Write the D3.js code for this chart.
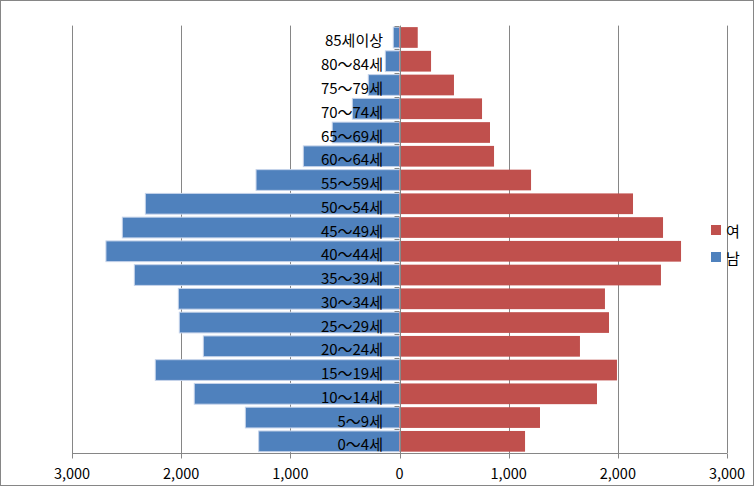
<!DOCTYPE html>
<html>
<head>
<meta charset="utf-8">
<script src="https://cdn.jsdelivr.net/npm/d3@7"></script>
<style>
  body { margin: 0; background: #fff; }
  svg { display: block; }
  text { font-family: "Noto Sans CJK KR", "Noto Sans", sans-serif; fill: #000; }
</style>
</head>
<body>
<svg id="chart" width="755" height="487"></svg>
<script>
// age groups, top to bottom
var ageGroups = ["85세이상","80～84세","75～79세","70～74세","65～69세","60～64세","55～59세",
                 "50～54세","45～49세","40～44세","35～39세","30～34세","25～29세","20～24세",
                 "15～19세","10～14세","5～9세","0～4세"];
// 남 (male) - drawn to the left
var maleValues = [57,130,286,432,616,881,1314,2328,2539,2689,2429,2026,2017,1797,2237,1880,1412,1290];
// 여 (female) - drawn to the right
var femaleValues = [167,289,499,756,829,866,1205,2139,2414,2579,2395,1882,1919,1653,1992,1809,1287,1150];
var tickValues = [-3000,-2000,-1000,0,1000,2000,3000];
var legendItems = [{name:"여", color:"#c0504d"}, {name:"남", color:"#4f81bd"}];

var svg = d3.select("#chart");
var fmt = d3.format(",");

var x = d3.scaleLinear().domain([-3000, 3000]).range([72, 727]);
var y = d3.scaleBand().domain(ageGroups).range([25.6, 453.2])
    .paddingInner(0.128).paddingOuter(0.064);

var rows = ageGroups.map(function(g, i){
    return {group: g, male: maleValues[i], female: femaleValues[i]};
});

// outer frame
svg.append("rect")
    .attr("x", 0.5).attr("y", 0.5).attr("width", 753).attr("height", 485)
    .attr("fill", "#fff").attr("stroke", "#868686");

// vertical gridlines
svg.append("g").selectAll("line")
    .data(tickValues.filter(function(d){ return d !== 0; }))
    .enter().append("line")
    .attr("x1", function(d){ return Math.round(x(d)) + 0.5; })
    .attr("x2", function(d){ return Math.round(x(d)) + 0.5; })
    .attr("y1", 25.6).attr("y2", 453.2)
    .attr("stroke", "#868686").attr("stroke-width", 1);

// bars
svg.append("g").selectAll("rect")
    .data(rows).enter().append("rect")
    .attr("x", function(d){ return x(-d.male); })
    .attr("y", function(d){ return y(d.group); })
    .attr("width", function(d){ return x(0) - x(-d.male); })
    .attr("height", y.bandwidth())
    .attr("fill", "#4f81bd")
    .attr("stroke", "#c5d3ea").attr("stroke-width", 1);

svg.append("g").selectAll("rect")
    .data(rows).enter().append("rect")
    .attr("x", x(0))
    .attr("y", function(d){ return y(d.group); })
    .attr("width", function(d){ return x(d.female) - x(0); })
    .attr("height", y.bandwidth())
    .attr("fill", "#c0504d");

// bottom axis
var xAxis = svg.append("g").attr("transform", "translate(0," + 453.5 + ")");
xAxis.append("line")
    .attr("x1", x(-3000)).attr("x2", x(3000))
    .attr("stroke", "#868686");
xAxis.selectAll("line.tick")
    .data(tickValues).enter().append("line")
    .attr("class", "tick")
    .attr("x1", function(d){ return Math.round(x(d)) + 0.5; })
    .attr("x2", function(d){ return Math.round(x(d)) + 0.5; })
    .attr("y1", 0).attr("y2", 5)
    .attr("stroke", "#868686");
xAxis.selectAll("text")
    .data(tickValues).enter().append("text")
    .attr("x", function(d){ return x(d); })
    .attr("y", 25.5)
    .attr("text-anchor", "middle")
    .attr("font-size", 14.5)
    .text(function(d){ return fmt(Math.abs(d)); });

// vertical axis at zero with category tick marks
var yAxis = svg.append("g");
yAxis.append("line")
    .attr("x1", Math.round(x(0)) + 0.5).attr("x2", Math.round(x(0)) + 0.5)
    .attr("y1", 25.6).attr("y2", 453.2)
    .attr("stroke", "#868686");
var bounds = ageGroups.map(function(g){ return y(g) - y.step() * y.paddingInner() / 2; });
bounds.push(453.2);
yAxis.selectAll("line.tick")
    .data(bounds).enter().append("line")
    .attr("class", "tick")
    .attr("x1", x(0) - 5).attr("x2", x(0))
    .attr("y1", function(d){ return Math.round(d) + 0.5; })
    .attr("y2", function(d){ return Math.round(d) + 0.5; })
    .attr("stroke", "#868686");
yAxis.selectAll("text")
    .data(ageGroups).enter().append("text")
    .attr("x", 383)
    .attr("y", function(d){ return y(d) + y.bandwidth() / 2 + 9; })
    .attr("text-anchor", "end")
    .attr("font-size", 15)
    .text(function(d){ return d; });

// legend
var legend = svg.append("g").selectAll("g")
    .data(legendItems).enter().append("g")
    .attr("transform", function(d, i){ return "translate(711," + (225 + i * 27) + ")"; });
legend.append("rect")
    .attr("width", 10).attr("height", 10)
    .attr("fill", function(d){ return d.color; });
legend.append("text")
    .attr("x", 15).attr("y", 11.5)
    .attr("font-size", 15)
    .text(function(d){ return d.name; });
</script>
</body>
</html>
